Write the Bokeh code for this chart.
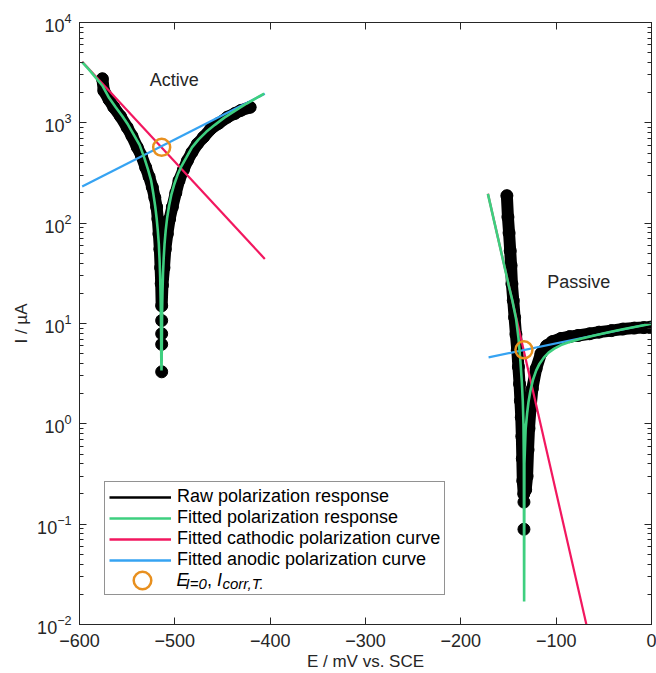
import math
from bokeh.plotting import figure
from bokeh.models import (LinearAxis, LogAxis, FixedTicker, LogTicker, Label, Legend,
                          LegendItem, ColumnDataSource, Range1d)
from bokeh.embed import file_html
from bokeh.resources import INLINE

nan = float("nan")

# ---------------- data (E in mV vs. SCE, I in uA) ----------------
x_lo, x_hi = -600, 0
y_lo, y_hi = 1e-2, 1e4
x_ticks = [-600, -500, -400, -300, -200, -100, 0]

# Active surface
act_raw_E = [-576.0, -574.5, -569.0, -564.0, -557.0, -550.0, -545.0, -539.4, -535.0, -530.6,
             -527.0, -523.6, -521.0, -519.1, -517.8, -516.7, -515.7, -514.9, -514.3, -513.8,
             -513.0, -511.4, -510.0, -507.9, -505.5, -502.6, -499.0, -495.6, -491.0, -486.8,
             -482.0, -476.3, -470.0, -462.3, -454.0, -444.8, -437.0, -430.8, -421.0, nan,
             -513.8, nan, -513.8, nan, -513.8, nan, -513.8]
act_raw_I = [2750, 2090, 1700, 1430, 1160, 900, 740, 570, 470, 360,
             290, 228, 180, 145, 110, 78, 55, 36, 25, 15,
             24, 36, 55, 78, 110, 145, 200, 266, 340, 420,
             510, 617, 720, 870, 990, 1140, 1240, 1330, 1430, nan,
             10.7, nan, 7.9, nan, 6.2, nan, 3.3]

act_fit_E = [-597.2, -590, -583, -576, -569, -562, -555, -549, -543, -537,
             -532, -528, -525, -522.5, -520.5, -519, -517.8, -516.8, -516, -515.4,
             -514.9, -514.5, -514.2, -514.0, -513.8, -513.3, -512.9, -512.4, -511.7, -510.8,
             -509.6, -508, -506, -503.5, -500.5, -497, -493, -488, -482, -475,
             -467, -458, -448, -437, -425, -412, -406.3]
act_fit_I = [4027, 3388, 2818, 2344, 1778, 1429, 1161, 955, 759, 603,
             447, 339, 269, 195, 145, 110, 83, 62, 43, 29.5,
             17.8, 10, 4.2, 3.4, 4.2, 13.8, 21.4, 31.6, 44.5, 61.7,
             84.3, 114, 150, 195, 246, 305, 371, 450, 569, 684,
             813, 955, 1127, 1318, 1549, 1820, 1950]

act_cath_E = [-597.2, -405.6]
act_cath_I = [4070, 44]
act_anod_E = [-597.2, -405.6]
act_anod_I = [232, 1950]
act_corr_E = [-513.8]
act_corr_I = [570]

# Passive surface
pas_raw_E = [-151.7, -150.6, -149.4, -148.2, -147.3, -146.4, -145.0, -143.6, -142.2, -140.8,
             -139.6, -138.4, -137.5, -136.6, -136.0, -135.5, -135.0, -134.0, -132.0, -130.5,
             -129.5, -128.5, -127.0, -125.0, -121.0, -116.0, -110.0, -104.0, -95.0, -86.0,
             -77.0, -65.0, -55.0, -42.0, -30.0, -18.0, -8.0, -1.0, nan, -133.8,
             nan, -133.8]
pas_raw_I = [188, 115, 80, 53, 38, 24.8, 17, 11.5, 7.8, 5.4,
             3.7, 2.5, 1.7, 1.16, 0.75, 0.45, 0.27, 0.2, 0.22, 0.3,
             0.55, 0.9, 1.4, 2.24, 3.55, 5.0, 6.0, 6.6, 7.1, 7.4,
             7.6, 7.9, 8.2, 8.5, 8.8, 9.0, 9.1, 9.2, nan, 0.166,
             nan, 0.089]

pas_fit_E = [-171.6, -165, -160, -155, -150, -146, -142, -139.5, -137.5, -136,
             -135, -134.3, -133.9, -133.6, -133.3, -132, -130.5, -129, -127, -124.3,
             -121, -117.4, -113, -108, -102, -95, -87.6, -75, -60, -45,
             -30, -15, 0]
pas_fit_I = [196, 104, 64.6, 39.8, 24.5, 17.0, 11.0, 7.1, 4.2, 2.6,
             1.66, 1.0, 0.40, 0.017, 0.40, 0.89, 1.26, 1.66, 2.14, 2.75,
             3.39, 3.98, 4.57, 5.13, 5.62, 6.1, 6.46, 7.0, 7.59, 8.17,
             8.75, 9.33, 9.95]

pas_cath_E = [-171.6, -68.3]
pas_cath_I = [196, 0.01]
pas_anod_E = [-170.9, 0]
pas_anod_I = [4.6, 10.0]
pas_corr_E = [-133.8]
pas_corr_I = [5.46]

legend_labels = ["Raw polarization response", "Fitted polarization response",
                 "Fitted cathodic polarization curve", "Fitted anodic polarization curve"]

# ---------------- styling ----------------
FONT = "Liberation Sans"
TXT = "#262626"
C_RAW = "#000000"
C_FIT = "#3ecf7f"
C_CAT = "#f2175f"
C_ANO = "#36a3f2"
C_COR = "#e8901f"

p = figure(width=656, height=673, x_range=Range1d(x_lo, x_hi), y_range=Range1d(y_lo, y_hi),
           y_axis_type="log", output_backend="svg", toolbar_location=None,
           min_border_left=79, min_border_right=5, min_border_top=22, min_border_bottom=49)
p.xgrid.visible = False
p.ygrid.visible = False
p.outline_line_color = TXT
p.background_fill_color = "white"
p.border_fill_color = "white"

bottom_ax = p.below[0]
left_ax = p.left[0]
bottom_ax.ticker = FixedTicker(ticks=x_ticks)
left_ax.ticker = LogTicker(num_minor_ticks=10)

top_ax = LinearAxis(ticker=FixedTicker(ticks=x_ticks))
right_ax = LogAxis(ticker=LogTicker(num_minor_ticks=10))
p.add_layout(top_ax, "above")
p.add_layout(right_ax, "right")

for ax in [bottom_ax, left_ax, top_ax, right_ax]:
    ax.axis_line_color = TXT
    ax.axis_line_width = 1
    ax.major_tick_in = 7
    ax.major_tick_out = 0
    ax.minor_tick_in = 4
    ax.minor_tick_out = 0
    ax.major_tick_line_color = TXT
    ax.minor_tick_line_color = TXT
    ax.major_label_text_font = FONT
    ax.major_label_text_font_size = "18px"
    ax.major_label_text_font_style = "normal"
    ax.major_label_text_color = TXT
for ax in [bottom_ax, top_ax]:
    ax.minor_tick_line_color = None
for ax in [top_ax, right_ax]:
    ax.major_label_text_font_size = "1px"
    ax.major_label_text_color = None
    ax.major_label_standoff = 0
bottom_ax.major_label_standoff = 9
left_ax.major_label_standoff = 8

# axis titles
bottom_ax.axis_label = "E / mV vs. SCE"
left_ax.axis_label = "I / \u00b5A"
for ax, so in [(bottom_ax, 2), (left_ax, 3)]:
    ax.axis_label_text_font = FONT
    ax.axis_label_text_font_size = "17px"
    ax.axis_label_text_font_style = "normal"
    ax.axis_label_text_color = TXT
    ax.axis_label_standoff = so

# ---------------- data renderers ----------------
for E, I in [(act_raw_E, act_raw_I), (pas_raw_E, pas_raw_I)]:
    src = ColumnDataSource(data=dict(x=E, y=I))
    p.line("x", "y", source=src, line_color=C_RAW, line_width=12,
           line_cap="round", line_join="round")
    p.scatter("x", "y", source=src, size=12, fill_color=C_RAW, line_color=C_RAW)

for E, I in [(act_cath_E, act_cath_I), (pas_cath_E, pas_cath_I)]:
    p.line(E, I, line_color=C_CAT, line_width=2.2)
for E, I in [(act_anod_E, act_anod_I), (pas_anod_E, pas_anod_I)]:
    p.line(E, I, line_color=C_ANO, line_width=2.2)
for E, I in [(act_fit_E, act_fit_I), (pas_fit_E, pas_fit_I)]:
    p.line(E, I, line_color=C_FIT, line_width=2.6)
corr_r = None
for E, I in [(act_corr_E, act_corr_I), (pas_corr_E, pas_corr_I)]:
    corr_r = p.scatter(E, I, size=17, marker="circle", fill_color=None,
                       line_color=C_COR, line_width=2.5)

# ---------------- text annotations ----------------
p.add_layout(Label(x=-526.4, y=2700, text="Active", text_baseline="middle",
                   text_font=FONT, text_font_size="18px", text_color=TXT))
p.add_layout(Label(x=-109.3, y=26.2, text="Passive", text_baseline="middle",
                   text_font=FONT, text_font_size="18px", text_color=TXT))

# ---------------- legend ----------------
lr = [p.line(act_fit_E[:1], act_fit_I[:1], line_color=c, line_width=2.6)
      for c in [C_RAW, C_FIT, C_CAT, C_ANO]]
lr_last = p.line(act_fit_E[:1], act_fit_I[:1], line_alpha=0)
items = [LegendItem(label=t, renderers=[r]) for t, r in zip(legend_labels, lr)]
items.append(LegendItem(label=" ", renderers=[lr_last]))
legend = Legend(items=items, location=(25, 29), label_text_font=FONT,
                label_text_font_size="18px", label_text_color="black",
                glyph_width=62, glyph_height=20, label_height=20, label_standoff=6,
                spacing=0, padding=4, margin=0, border_line_color=TXT,
                border_line_width=1, background_fill_alpha=0)
p.add_layout(legend)

# second, borderless legend carrying only the large orange circle glyph (row 5)
legend2 = Legend(items=[LegendItem(label=" ", renderers=[corr_r], index=0)],
                 location=(34, 22), glyph_width=58, glyph_height=44, label_height=44,
                 label_standoff=0, padding=0, margin=0, spacing=0,
                 border_line_color=None, background_fill_alpha=0,
                 label_text_font_size="1px")
p.add_layout(legend2)

def lab(x, y, text, size="18px", style="normal"):
    p.add_layout(Label(x=x, y=y, x_units="screen", y_units="screen", text=text,
                       text_font=FONT, text_font_size=size, text_font_style=style,
                       text_color="black", text_baseline="alphabetic", level="overlay"))

# legend row 5 text: E_{I=0}, I_{corr,T.}
lab(97, 45, "E", style="italic")
lab(106, 41, "I=0", size="15px", style="italic")
lab(127.5, 45, ", ")
lab(137.5, 45, "I", style="italic")
lab(143, 41, "corr,T.", size="15px", style="italic")

open("out.html", "w").write(file_html(p, INLINE))
